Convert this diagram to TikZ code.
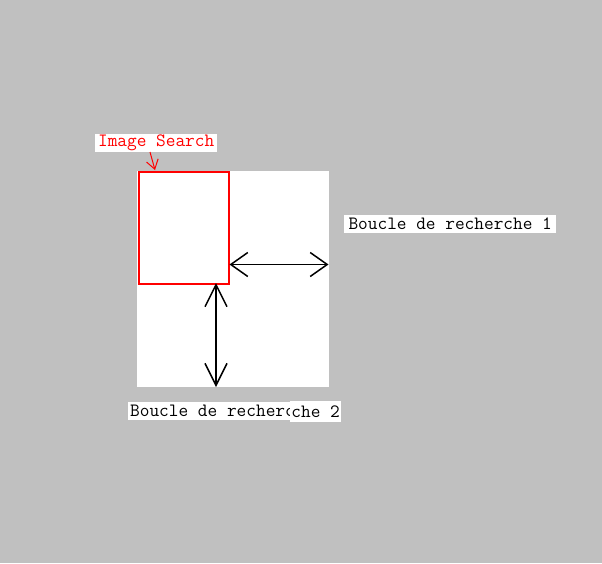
\documentclass[tikz,border=0pt]{standalone}
\usepackage{fontspec}
\usetikzlibrary{arrows.meta}
\definecolor{bg}{RGB}{192,192,192}
\definecolor{redline}{RGB}{255,0,0}
\tikzset{
  lbl/.style={fill=white, inner sep=0pt, minimum height=18pt,
    font=\ttfamily\fontsize{18.8}{18}\selectfont, anchor=west},
  harrow/.style={line width=1.8pt, {Straight Barb[length=17pt,width=24pt,line width=1.5pt]}-{Straight Barb[length=17pt,width=24pt,line width=1.5pt]}},
  varrow/.style={line width=1.8pt, {Straight Barb[length=22pt,width=22pt,line width=1.5pt]}-{Straight Barb[length=22pt,width=22pt,line width=1.5pt]}},
}
\begin{document}
\begin{tikzpicture}[x=1pt,y=-1pt]
  \fill[bg] (0,0) rectangle (602,563);
  \useasboundingbox (0,0) rectangle (602,563);
  % white canvas
  \fill[white] (137,171) rectangle (329,387);
  % red box
  \node[draw=redline, line width=2pt, minimum width=90pt, minimum height=111.5pt, inner sep=0pt, anchor=north west] (box) at (137.5,171) {};
  % label Image Search
  \node[lbl, text=redline, minimum width=122pt, inner xsep=0pt, align=center] (img) at (95,143) {Image Search};
  \coordinate (imgfoot) at (150,152);
  \coordinate (boxtop) at (155,170);
  \draw[redline, line width=1pt, -{Straight Barb[length=9pt,width=12pt]}] (imgfoot) -- (boxtop);
  % arrow endpoints
  \coordinate (hR) at (328.5,264.5);
  \coordinate (hL) at (box.east |- hR);
  \coordinate (vT) at (216,283);
  \coordinate (vB) at (216,387);
  \draw[harrow] (hL) -- (hR);
  \draw[varrow] (vT) -- (vB);
  % labels
  \node[lbl, inner xsep=1pt, minimum width=212pt, align=left] (l1) at (344,224) {Boucle de recherche 1\hfill};
  \node[lbl, inner xsep=2pt, minimum width=162pt] (l2a) at (128,411) {Boucle de recherc\hfill};
  \node[lbl, inner xsep=1pt, minimum width=51pt, minimum height=21pt] (l2b) at (290,411.5) {che 2};
\end{tikzpicture}
\end{document}
